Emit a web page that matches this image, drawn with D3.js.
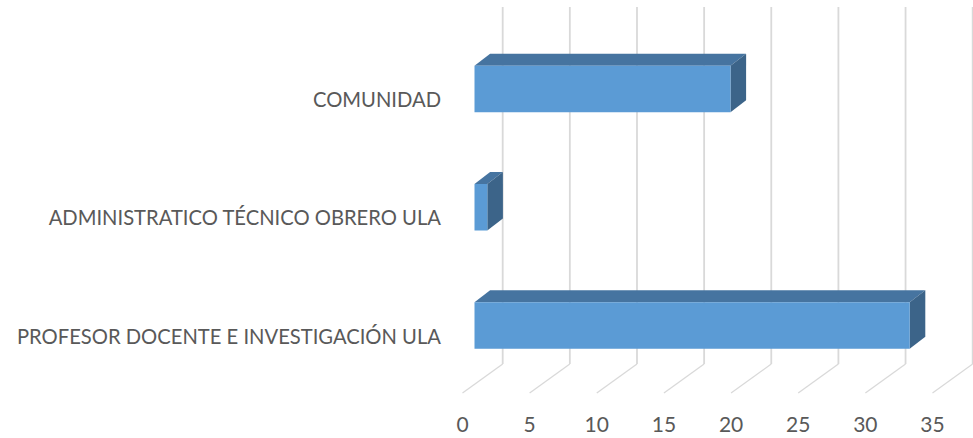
<!DOCTYPE html>
<html>
<head>
<meta charset="utf-8">
<script src="https://cdn.jsdelivr.net/npm/d3@7"></script>
<style>
  body { margin: 0; background: #fff; }
  svg { display: block; }
  text { font-family: "Lato", "Open Sans", sans-serif; fill: #595959; }
</style>
</head>
<body>
<div id="root"></div>
<script>
// data (top to bottom as shown)
var categories = ["COMUNIDAD", "ADMINISTRATICO TÉCNICO OBRERO ULA", "PROFESOR DOCENTE E INVESTIGACIÓN ULA"];
var values = [20, 1, 34];
var tickValues = [0, 5, 10, 15, 20, 25, 30, 35];

var w = 973, h = 438;
var svg = d3.select("#root").append("svg").attr("width", w).attr("height", h);

// floor / back wall geometry
var floorFrontY = 393, floorBackY = 364, wallTop = 7;
var xFront = d3.scaleLinear().domain([0, 35]).range([462.5, 932.5]);
var xBack = d3.scaleLinear().domain([0, 35]).range([502.7, 972.7]);
// bar front face scale
var xBar = d3.scaleLinear().domain([0, 35]).range([474.5, 474.5 + 35 * 12.8]);
var y = d3.scalePoint().domain(categories).range([89, 325.5]);

var barH = 46.5, dx = 15.6, dy = -12;

// gridlines: floor diagonals + back wall verticals
var grid = svg.append("g").attr("class", "grid")
  .style("stroke", "#d9d9d9").style("fill", "none");
grid.selectAll("path.floor").data(tickValues).enter().append("path")
  .attr("class", "floor")
  .attr("d", function(d) {
    return "M" + xFront(d) + "," + floorFrontY + "L" + xBack(d) + "," + floorBackY;
  })
  .style("stroke-width", 1.3);
grid.selectAll("line.wall").data(tickValues).enter().append("line")
  .attr("class", "wall")
  .attr("x1", function(d) { return xBack(d); })
  .attr("x2", function(d) { return xBack(d); })
  .attr("y1", floorBackY)
  .attr("y2", wallTop)
  .style("stroke-width", 1.8);

// tick labels
svg.selectAll("text.tick").data(tickValues).enter().append("text")
  .attr("class", "tick")
  .attr("x", function(d) { return xFront(d); })
  .attr("y", 425)
  .attr("dy", "0.35em")
  .attr("text-anchor", "middle")
  .style("font-size", "21px")
  .text(function(d) { return d; });

// category labels
svg.selectAll("text.cat").data(categories).enter().append("text")
  .attr("class", "cat")
  .attr("x", 441)
  .attr("y", function(d) { return y(d) + 11; })
  .attr("dy", "0.35em")
  .attr("text-anchor", "end")
  .style("font-size", "20.2px")
  .text(function(d) { return d; });

// 3d bars
var bars = svg.selectAll("g.bar").data(categories).enter().append("g").attr("class", "bar");
bars.append("path") // top face
  .attr("d", function(d, i) {
    var x0 = xBar(0), x1 = xBar(values[i]), t = y(d) - barH / 2;
    return "M" + x0 + "," + t + "L" + (x0 + dx) + "," + (t + dy) + "L" + (x1 + dx) + "," + (t + dy) + "L" + x1 + "," + t + "Z";
  })
  .style("fill", "#4674a0");
bars.append("path") // side face
  .attr("d", function(d, i) {
    var x1 = xBar(values[i]), t = y(d) - barH / 2, b = y(d) + barH / 2;
    return "M" + x1 + "," + t + "L" + (x1 + dx) + "," + (t + dy) + "L" + (x1 + dx) + "," + (b + dy) + "L" + x1 + "," + b + "Z";
  })
  .style("fill", "#3c6489");
bars.append("rect") // front face
  .attr("x", xBar(0))
  .attr("y", function(d) { return y(d) - barH / 2; })
  .attr("width", function(d, i) { return xBar(values[i]) - xBar(0); })
  .attr("height", barH)
  .style("fill", "#5b9bd5");
</script>
</body>
</html>
